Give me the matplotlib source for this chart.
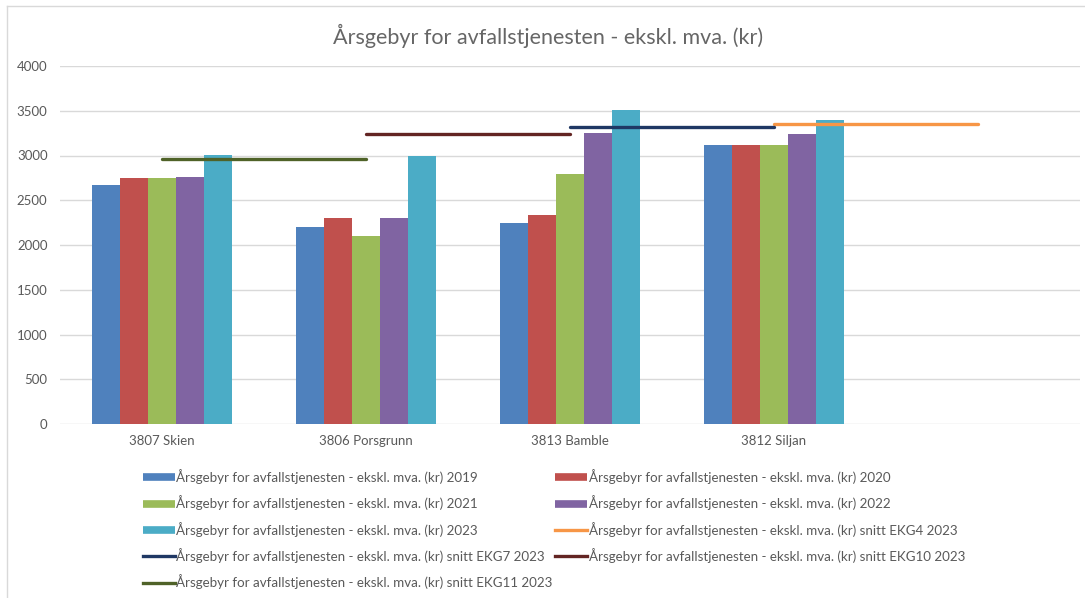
import numpy as np
import matplotlib.pyplot as plt
from matplotlib.lines import Line2D

plt.rcParams['font.family'] = ['Lato', 'DejaVu Sans']

# data
kommuner = ['3807 Skien', '3806 Porsgrunn', '3813 Bamble', '3812 Siljan', '']
aar = ['2019', '2020', '2021', '2022', '2023']
gebyr_2019 = [2670, 2200, 2250, 3115]
gebyr_2020 = [2745, 2300, 2330, 3115]
gebyr_2021 = [2750, 2100, 2790, 3115]
gebyr_2022 = [2755, 2300, 3255, 3240]
gebyr_2023 = [3010, 3000, 3510, 3400]

# snitt series, one value per category (None = no point)
snitt_ekg4 = [None, None, None, 3350, 3350]
snitt_ekg7 = [None, None, 3320, 3320, None]
snitt_ekg10 = [None, 3235, 3235, None, None]
snitt_ekg11 = [2960, 2960, None, None, None]

bar_colors = ['#4F81BD', '#C0504D', '#9BBB59', '#8064A2', '#4BACC6']
line_colors = {'EKG4': '#F79646', 'EKG7': '#1F3864', 'EKG10': '#632523', 'EKG11': '#4F6228'}
label = 'Årsgebyr for avfallstjenesten - ekskl. mva. (kr)'
text_col = '#595959'

fig = plt.figure(figsize=(10.85, 5.98), dpi=100)
ax = fig.add_axes([60 / 1085, 1 - 424 / 598, 1020 / 1085, (424 - 66) / 598])

x = np.arange(len(kommuner))
series = [gebyr_2019, gebyr_2020, gebyr_2021, gebyr_2022, gebyr_2023]
bw = 0.138
for i, vals in enumerate(series):
    ax.bar(x[:len(vals)] + (i - 2) * bw, vals, width=bw, color=bar_colors[i], zorder=2)


def draw_line(vals, col):
    xs = [k for k, v in enumerate(vals) if v is not None]
    ys = [v for v in vals if v is not None]
    ax.plot(xs, ys, color=col, lw=2.4, solid_capstyle='round', zorder=3)


draw_line(snitt_ekg4, line_colors['EKG4'])
draw_line(snitt_ekg7, line_colors['EKG7'])
draw_line(snitt_ekg10, line_colors['EKG10'])
draw_line(snitt_ekg11, line_colors['EKG11'])

ax.set_xlim(-0.5, 4.5)
ax.set_ylim(0, 4000)
ax.set_yticks(range(0, 4001, 500))
ax.set_xticks(x)
ax.set_xticklabels(kommuner)
ax.grid(axis='y', color='#D9D9D9', lw=1, zorder=0)
for s in ax.spines.values():
    s.set_visible(False)
ax.tick_params(length=0, colors=text_col, labelsize=9.5)
ax.tick_params(axis='y', pad=9)
ax.tick_params(axis='x', pad=8)

fig.text(548 / 1085, 1 - 36 / 598, label, ha='center', va='center', fontsize=15.5, color='#666666')

# legend, filled row by row like in Excel
handles = {}
names = {}
for i, a in enumerate(aar):
    handles[a] = Line2D([0], [0], color=bar_colors[i], lw=5.5, solid_capstyle='butt')
    names[a] = f'{label} {a}'
for k in ['EKG4', 'EKG7', 'EKG10', 'EKG11']:
    handles[k] = Line2D([0], [0], color=line_colors[k], lw=2.4)
    names[k] = f'{label} snitt {k} 2023'
order = ['2019', '2021', '2023', 'EKG7', 'EKG11', '2020', '2022', 'EKG4', 'EKG10']
fig.legend([handles[k] for k in order], [names[k] for k in order], ncol=2, loc='upper left',
           bbox_to_anchor=(143 / 1085, 1 - 469 / 598),
           frameon=False, fontsize=9.6, labelcolor=text_col, handlelength=2.4, handletextpad=0.1,
           columnspacing=0.2, labelspacing=0.85, borderaxespad=0, borderpad=0)

# chart border pieces visible in the crop
fig.add_artist(Line2D([7 / 1085, 7 / 1085], [0, 1 - 6 / 598], color='#D9D9D9', lw=1))
fig.add_artist(Line2D([7 / 1085, 1], [1 - 6 / 598, 1 - 6 / 598], color='#D9D9D9', lw=1))

fig.savefig('out.png', dpi=100, facecolor='white')
